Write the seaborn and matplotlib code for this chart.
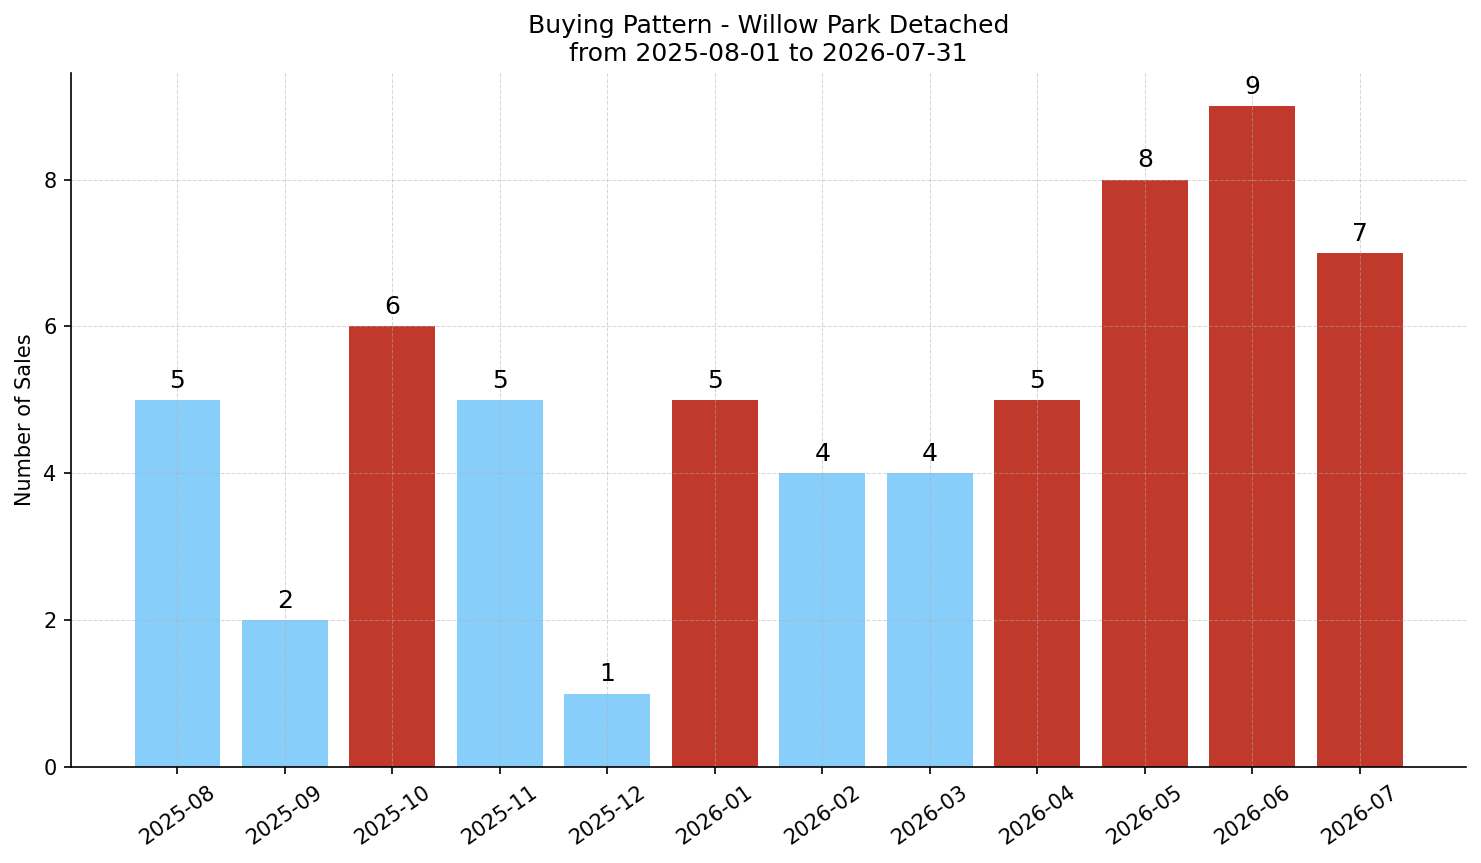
import matplotlib
matplotlib.use("Agg")
import matplotlib.pyplot as plt
import seaborn as sns
import pandas as pd

months = ["2025-08", "2025-09", "2025-10", "2025-11", "2025-12", "2026-01",
          "2026-02", "2026-03", "2026-04", "2026-05", "2026-06", "2026-07"]
sales = [5, 2, 6, 5, 1, 5, 4, 4, 5, 8, 9, 7]
is_hot = [False, False, True, False, False, True, False, False, True, True, True, True]

BLUE = "#87CEFA"
RED = "#C0392B"

df = pd.DataFrame({"month": months, "sales": sales})
palette = {m: (RED if h else BLUE) for m, h in zip(months, is_hot)}

sns.set_style("ticks", rc={"text.color": "black", "axes.labelcolor": "black",
                           "xtick.color": "black", "ytick.color": "black",
                           "axes.edgecolor": "black"})
plt.rcParams['font.family'] = ['DejaVu Sans']

DPI = 150
fig, ax = plt.subplots(figsize=(1481 / DPI, 863 / DPI), dpi=DPI)
sns.barplot(data=df, x="month", y="sales", hue="month", palette=palette,
            legend=False, width=0.8, saturation=1, linewidth=0, ax=ax)

# value labels above bars
for i, v in enumerate(sales):
    ax.annotate(str(v), (i, v), xytext=(0, 3.5), textcoords="offset points",
                ha="center", va="bottom", fontsize=12)

ax.set_xlim(-0.99, len(months) - 0.01)
ax.set_ylim(0, max(sales) * 1.05)
ax.grid(True, linestyle="--", linewidth=0.5, color="#b0b0b0", alpha=0.5)
ax.set_axisbelow("line")
sns.despine(ax=ax)

ax.set_title("Buying Pattern - Willow Park Detached\nfrom 2025-08-01 to 2026-07-31", fontsize=12)
ax.set_xlabel("")
ax.set_ylabel("Number of Sales", fontsize=10)
ax.tick_params(axis="both", labelsize=10, length=3.5, width=0.8)
plt.setp(ax.get_xticklabels(), rotation=35)

fig.subplots_adjust(left=0.048, right=0.99, top=0.9154, bottom=0.1112)
fig.savefig("out.png", dpi=DPI)
